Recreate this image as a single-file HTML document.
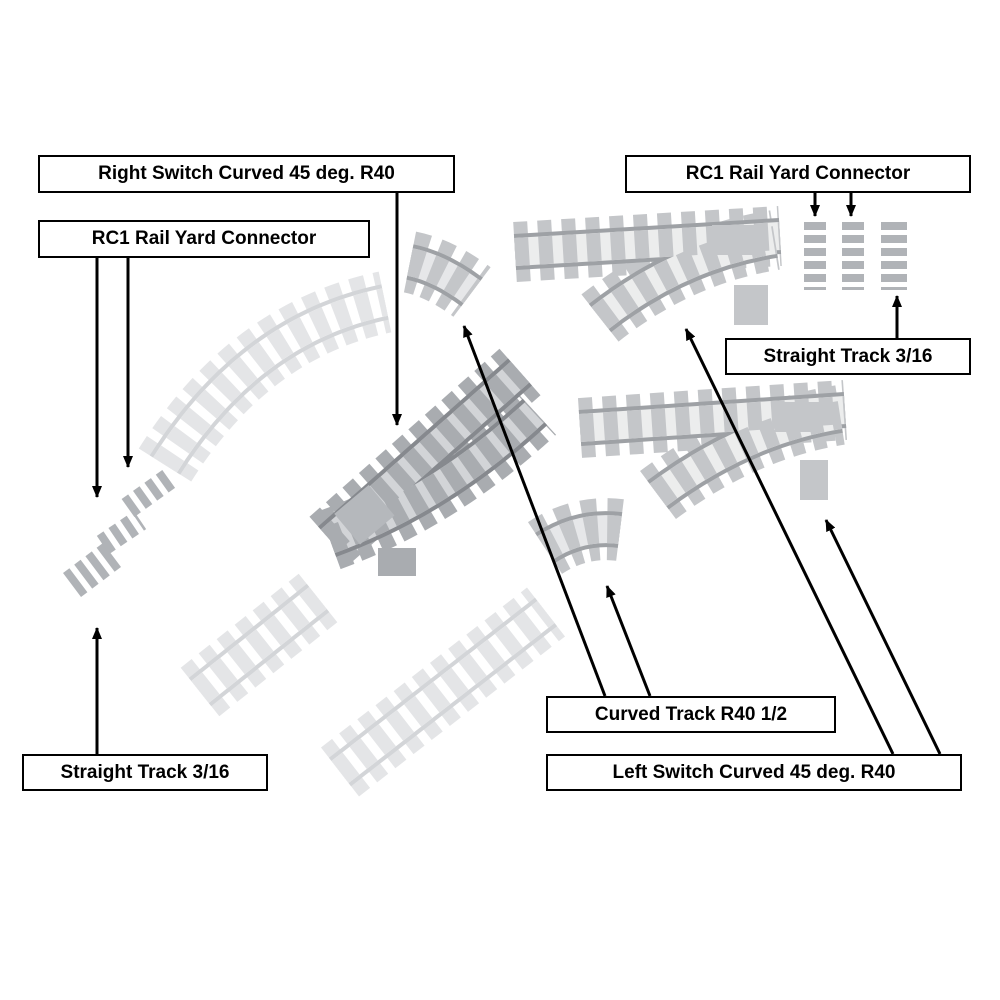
<!DOCTYPE html>
<html><head><meta charset="utf-8"><style>
html,body{margin:0;padding:0;background:#fff;}
.lb{position:absolute;border:2px solid #000;background:#fff;font:bold 19px "Liberation Sans",sans-serif;color:#000;box-sizing:border-box;display:flex;align-items:center;justify-content:center;white-space:nowrap;}
</style></head><body>
<div style="position:relative;width:1000px;height:1000px;overflow:hidden">
<svg width="1000" height="1000" style="position:absolute;left:0;top:0" fill="none">
<defs>
<marker id="ah" markerWidth="12" markerHeight="12" refX="11" refY="6" orient="auto" markerUnits="userSpaceOnUse" viewBox="0 0 12 12"><path d="M0,1 L12,6 L0,11 z" fill="#000"/></marker>
</defs>
<g stroke-linecap="butt">
<path d="M165,465 Q250,330 385,302" stroke="#e4e5e7" stroke-width="62" stroke-dasharray="14 9"/>
<path d="M165,465 Q250,330 385,302" stroke="#d3d5d8" stroke-width="36"/>
<path d="M165,465 Q250,330 385,302" stroke="#fff" stroke-width="28"/>
<path d="M165,465 Q250,330 385,302" stroke="#e4e5e7" stroke-width="28" stroke-dasharray="14 9"/>
<path d="M200,692 L318,598" stroke="#e4e5e7" stroke-width="62" stroke-dasharray="14 9"/>
<path d="M200,692 L318,598" stroke="#d3d5d8" stroke-width="36"/>
<path d="M200,692 L318,598" stroke="#fff" stroke-width="28"/>
<path d="M200,692 L318,598" stroke="#e4e5e7" stroke-width="28" stroke-dasharray="14 9"/>
<path d="M340,772 L546,612" stroke="#e4e5e7" stroke-width="62" stroke-dasharray="14 9"/>
<path d="M340,772 L546,612" stroke="#d3d5d8" stroke-width="36"/>
<path d="M340,772 L546,612" stroke="#fff" stroke-width="28"/>
<path d="M340,772 L546,612" stroke="#e4e5e7" stroke-width="28" stroke-dasharray="14 9"/>
</g>
<g stroke="#b0b3b7">
<path d="M72,585 L112,555" stroke-width="30" stroke-dasharray="8 6"/>
<path d="M103,545 L140,520" stroke-width="22" stroke-dasharray="8 6"/>
<path d="M128,508 L170,478" stroke-width="22" stroke-dasharray="8 6"/>
</g>
<g>
<path d="M330,540 L520,372" stroke="#a9acb0" stroke-width="62" stroke-dasharray="14 8"/>
<path d="M330,540 Q440,500 535,412" stroke="#a9acb0" stroke-width="62" stroke-dasharray="14 8"/>
<path d="M330,540 L520,372" stroke="#86898e" stroke-width="36"/>
<path d="M330,540 Q440,500 535,412" stroke="#86898e" stroke-width="36"/>
<path d="M330,540 L520,372" stroke="#d2d4d7" stroke-width="28"/>
<path d="M330,540 Q440,500 535,412" stroke="#d2d4d7" stroke-width="28"/>
<path d="M330,540 L520,372" stroke="#a9acb0" stroke-width="28" stroke-dasharray="14 8"/>
<path d="M330,540 Q440,500 535,412" stroke="#a9acb0" stroke-width="28" stroke-dasharray="14 8"/>
<rect x="342" y="495" width="45" height="40" fill="#b5b8bc" transform="rotate(-40 364 515)"/>
<rect x="378" y="548" width="38" height="28" fill="#a9acb0"/>
</g>
<g>
<path d="M410,262 Q440,268 472,292" stroke="#c4c6c9" stroke-width="62" stroke-dasharray="13 9"/>
<path d="M410,262 Q440,268 472,292" stroke="#9ea1a5" stroke-width="36"/>
<path d="M410,262 Q440,268 472,292" stroke="#e6e7e9" stroke-width="28"/>
<path d="M410,262 Q440,268 472,292" stroke="#c4c6c9" stroke-width="28" stroke-dasharray="13 9"/>
<path d="M545,548 Q580,525 620,530" stroke="#c4c6c9" stroke-width="62" stroke-dasharray="13 9"/>
<path d="M545,548 Q580,525 620,530" stroke="#9ea1a5" stroke-width="36"/>
<path d="M545,548 Q580,525 620,530" stroke="#e6e7e9" stroke-width="28"/>
<path d="M545,548 Q580,525 620,530" stroke="#c4c6c9" stroke-width="28" stroke-dasharray="13 9"/>
</g>
<g>
<path d="M515,252 L780,236" stroke="#c4c6c9" stroke-width="60" stroke-dasharray="14 10"/>
<path d="M600,318 Q680,255 775,240" stroke="#c4c6c9" stroke-width="60" stroke-dasharray="14 10"/>
<path d="M515,252 L780,236" stroke="#9ea1a5" stroke-width="36"/>
<path d="M600,318 Q680,255 775,240" stroke="#9ea1a5" stroke-width="36"/>
<path d="M515,252 L780,236" stroke="#eceded" stroke-width="28"/>
<path d="M600,318 Q680,255 775,240" stroke="#eceded" stroke-width="28"/>
<path d="M515,252 L780,236" stroke="#c4c6c9" stroke-width="28" stroke-dasharray="14 10"/>
<path d="M600,318 Q680,255 775,240" stroke="#c4c6c9" stroke-width="28" stroke-dasharray="14 10"/>
<rect x="712" y="225" width="45" height="30" fill="#c4c6c9"/>
<rect x="734" y="285" width="34" height="40" fill="#c4c6c9"/>
</g>
<g>
<path d="M580,428 L845,410" stroke="#c4c6c9" stroke-width="60" stroke-dasharray="14 10"/>
<path d="M658,495 Q745,430 840,415" stroke="#c4c6c9" stroke-width="60" stroke-dasharray="14 10"/>
<path d="M580,428 L845,410" stroke="#9ea1a5" stroke-width="36"/>
<path d="M658,495 Q745,430 840,415" stroke="#9ea1a5" stroke-width="36"/>
<path d="M580,428 L845,410" stroke="#eceded" stroke-width="28"/>
<path d="M658,495 Q745,430 840,415" stroke="#eceded" stroke-width="28"/>
<path d="M580,428 L845,410" stroke="#c4c6c9" stroke-width="28" stroke-dasharray="14 10"/>
<path d="M658,495 Q745,430 840,415" stroke="#c4c6c9" stroke-width="28" stroke-dasharray="14 10"/>
<rect x="775" y="402" width="45" height="30" fill="#c4c6c9"/>
<rect x="800" y="460" width="28" height="40" fill="#c4c6c9"/>
</g>
<g stroke="#b0b3b7" stroke-dasharray="8 5">
<path d="M815,222 V290" stroke-width="22"/>
<path d="M853,222 V290" stroke-width="22"/>
<path d="M894,222 V290" stroke-width="26"/>
</g>
<g stroke="#000" stroke-width="3" marker-end="url(#ah)">
<line x1="397" y1="193" x2="397" y2="425"/>
<line x1="97" y1="258" x2="97" y2="497"/>
<line x1="128" y1="258" x2="128" y2="467"/>
<line x1="815" y1="193" x2="815" y2="216"/>
<line x1="851" y1="193" x2="851" y2="216"/>
<line x1="897" y1="338" x2="897" y2="296"/>
<line x1="97" y1="754" x2="97" y2="628"/>
<line x1="605" y1="696" x2="464" y2="326"/>
<line x1="650" y1="696" x2="607" y2="586"/>
<line x1="893" y1="754" x2="686" y2="329"/>
<line x1="940" y1="754" x2="826" y2="520"/>
</g>
</svg>
<div class="lb" style="left:38px;top:155px;width:417px;height:38px">Right Switch Curved 45 deg. R40</div>
<div class="lb" style="left:38px;top:220px;width:332px;height:38px">RC1 Rail Yard Connector</div>
<div class="lb" style="left:625px;top:155px;width:346px;height:38px">RC1 Rail Yard Connector</div>
<div class="lb" style="left:725px;top:338px;width:246px;height:37px">Straight Track 3/16</div>
<div class="lb" style="left:22px;top:754px;width:246px;height:37px">Straight Track 3/16</div>
<div class="lb" style="left:546px;top:696px;width:290px;height:37px">Curved Track R40 1/2</div>
<div class="lb" style="left:546px;top:754px;width:416px;height:37px">Left Switch Curved 45 deg. R40</div>
</div>
</body></html>
